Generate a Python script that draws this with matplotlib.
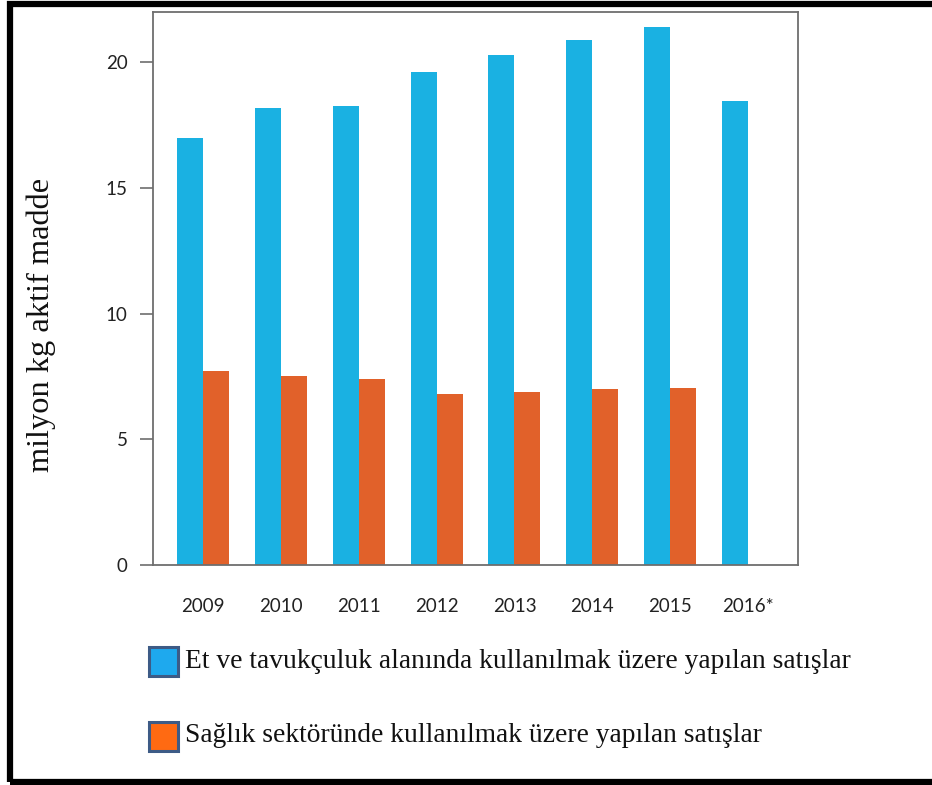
import numpy as np
import matplotlib.pyplot as plt
from matplotlib.patches import Rectangle

# yearly sales, million kg active substance
years = ['2009', '2010', '2011', '2012', '2013', '2014', '2015', '2016*']
meat_poultry = [17.0, 18.17, 18.25, 19.6, 20.28, 20.87, 21.4, 18.45]
health = [7.71, 7.51, 7.4, 6.8, 6.88, 7.0, 7.04]

legend_labels = ['Et ve tavukçuluk alanında kullanılmak üzere yapılan satışlar',
                 'Sağlık sektöründe kullanılmak üzere yapılan satışlar']
y_label = 'milyon kg aktif madde'

W, H = 932, 785
fig = plt.figure(figsize=(W / 100, H / 100), dpi=100)

# axes box in pixel terms: x 153..798, y 12..565
ax = fig.add_axes([153 / W, 1 - 565 / H, 645 / W, 553 / H])

x = np.arange(len(years))
bw = 1 / 3
ax.bar(x - bw / 2, meat_poultry, width=bw, color='#1ab1e2', linewidth=0)
ax.bar(x[:len(health)] + bw / 2, health, width=bw, color='#e1612a', linewidth=0)

ax.set_xlim(-0.641, 7.641)
ax.set_ylim(0, 22)
ax.set_yticks([0, 5, 10, 15, 20])
ax.set_xticks(x)
ax.set_xticklabels(years)

for s in ax.spines.values():
    s.set_color('#6e6e6e')
    s.set_linewidth(1.3)

for lab in ax.get_xticklabels() + ax.get_yticklabels():
    lab.set_fontfamily('Lato')
    lab.set_fontsize(13.5)
    lab.set_color('#222222')
ax.tick_params(axis='x', length=0, pad=24)
ax.tick_params(axis='y', length=9.4, width=1.2, color='#6e6e6e', pad=9)

fig.text(41 / W, 1 - 325 / H, y_label, rotation=90, ha='center', va='center',
         family='Liberation Serif', fontsize=23.3, color='#111111')

# legend drawn by hand below the plot
leg_colors = ['#1ea9ee', '#ff6a12']
leg_y = [661, 736]
for c, yy, txt in zip(leg_colors, leg_y, legend_labels):
    fig.patches.append(Rectangle((149 / W, 1 - (yy + 14.5) / H), 29 / W, 29 / H,
                                 transform=fig.transFigure, facecolor=c,
                                 edgecolor='#3d5b86', linewidth=2.2))
    fig.text(185 / W, 1 - yy / H, txt, ha='left', va='center',
             family='Liberation Serif', fontsize=19.8, color='#111111')

# thick black frame around the whole figure (right side runs off the edge)
fig.patches.append(Rectangle((10 / W, 1 - 782 / H), 940 / W, 778.5 / H,
                             transform=fig.transFigure, fill=False,
                             edgecolor='black', linewidth=4.5))

fig.savefig('out.png', dpi=100, facecolor='white')
